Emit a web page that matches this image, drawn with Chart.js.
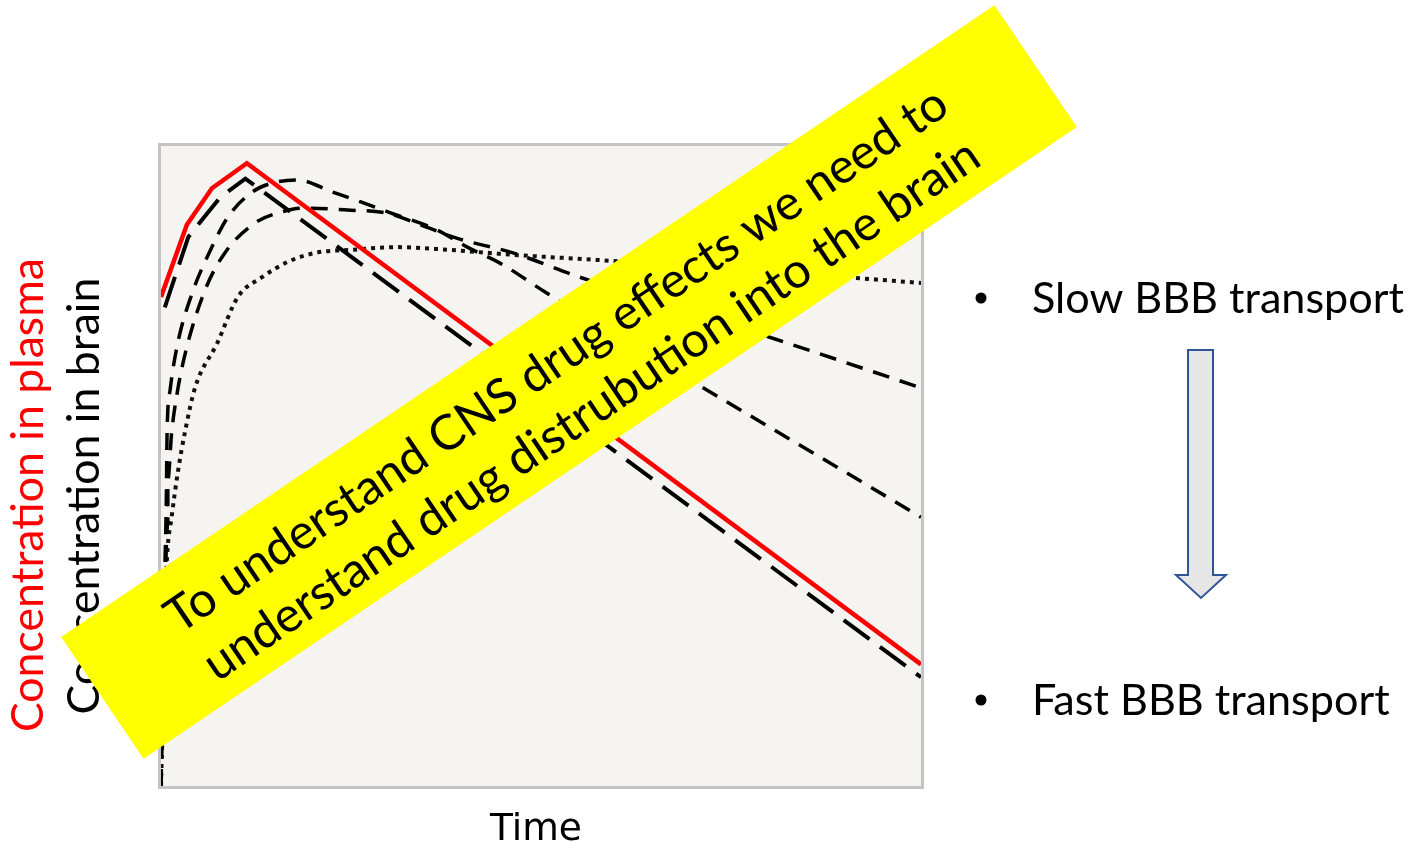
<!DOCTYPE html>
<html>
<head>
<meta charset="utf-8">
<title>CNS drug distribution</title>
<script src="https://cdn.jsdelivr.net/npm/chart.js@4.4.1/dist/chart.umd.min.js"></script>
<style>
  html, body { margin: 0; padding: 0; background: #ffffff; }
  #wrap { width: 1414px; height: 848px; }
</style>
</head>
<body>
<div id="wrap"><canvas id="chart" width="1414" height="848"></canvas></div>
<script>
// --- datos (tiempo 0-100, concentración 0-100) ---
const plasmaT = [0, 3.4, 6.7, 11.3, 100];
const plasmaC = [76.4, 87.7, 93.4, 97.3, 19.0];

const fastT = [0.5, 3.6, 7.8, 11.1, 100];
const fastC = [74.8, 85.8, 92.0, 94.9, 17.0];

const midT = [0, 0.4, 0.7, 0.8, 1.2, 2.2, 4.1, 6.7, 8.8, 12.0, 14.6, 17.9, 22.6, 26.2, 30.1, 36.3, 40.3, 44.6, 50.8, 100];
const midC = [0, 29, 44.7, 55.2, 61.9, 69.2, 77.0, 84.2, 88.9, 92.8, 94.2, 94.7, 92.8, 91.3, 89.6, 86.9, 84.2, 81.7, 77.0, 42.0];

const slowT = [0, 0.5, 0.9, 0.9, 1.4, 2.2, 3.4, 5.8, 8.4, 12.4, 15.9, 18.6, 24.5, 29.7, 34.1, 38.9, 46.3, 55.1, 80.9, 100];
const slowC = [0, 29, 41.1, 47.8, 55.2, 61.9, 68.6, 77.5, 83.3, 88.0, 89.7, 90.3, 90.0, 89.5, 87.7, 85.6, 83.3, 79.5, 69.8, 62.2];

const slowestT = [0, 0.3, 0.5, 0.8, 1.4, 2.2, 3.2, 4.5, 7.4, 10.1, 13.3, 16.7, 20.3, 25.3, 31.1, 37.6, 46.3, 57.4, 91.1, 100];
const slowestC = [0, 13.4, 26, 35.8, 42, 48.9, 55.6, 62.3, 69.2, 76.4, 79.5, 81.9, 83.3, 83.8, 84.2, 83.8, 83.0, 82.2, 79.4, 78.6];

const yLabelPlasma = "Concentration in plasma";
const yLabelBrain = "Concentration in brain";
const xLabel = "Time";
const bulletLabels = ["Slow BBB transport", "Fast BBB transport"];
const bannerLines = ["To understand CNS drug effects we need to", "understand drug distrubution into the brain"];

const pts = (t, c) => t.map((x, i) => ({ x, y: c[i] }));

// tamaño de fuente para que el texto ocupe un ancho dado
function fitSize(ctx, text, family, weight, target){
  ctx.font = `${weight} 100px ${family}`;
  return 100 * target / ctx.measureText(text).width;
}

const CAL = "Lato, 'Open Sans', sans-serif";

const decor = {
  id: "decor",
  beforeDatasetsDraw(chart){
    const ctx = chart.ctx;
    const a = chart.chartArea;
    ctx.save();
    ctx.fillStyle = "#f5f4f0";
    ctx.fillRect(a.left, a.top, a.right - a.left, a.bottom - a.top);
    ctx.strokeStyle = "#c4c4c4";
    ctx.lineWidth = 3;
    ctx.strokeRect(a.left - 1.5, a.top - 1.5, a.right - a.left + 3, a.bottom - a.top + 3);
    ctx.restore();
  },
  afterDatasetsDraw(chart){
    const ctx = chart.ctx;
    ctx.save();

    // etiquetas del eje Y (verticales)
    let s = fitSize(ctx, yLabelPlasma, CAL, 400, 474);
    ctx.font = `400 ${s}px ${CAL}`;
    ctx.fillStyle = "#ff0000";
    ctx.textAlign = "center";
    ctx.textBaseline = "alphabetic";
    ctx.save();
    ctx.translate(43, 495);
    ctx.rotate(-Math.PI / 2);
    ctx.fillText(yLabelPlasma, 0, 0);
    ctx.restore();

    ctx.fillStyle = "#000000";
    ctx.save();
    ctx.translate(99, 496);
    ctx.rotate(-Math.PI / 2);
    ctx.fillText(yLabelBrain, 0, 0);
    ctx.restore();

    // eje X
    s = fitSize(ctx, xLabel, "'DejaVu Sans'", 400, 92);
    ctx.font = `400 ${s}px 'DejaVu Sans'`;
    ctx.fillStyle = "#000000";
    ctx.fillText(xLabel, 536, 840);

    // viñetas a la derecha
    s = fitSize(ctx, bulletLabels[0], CAL, 400, 372);
    ctx.font = `400 ${s}px ${CAL}`;
    ctx.textAlign = "left";
    ctx.fillText(bulletLabels[0], 1032, 313);
    ctx.fillText(bulletLabels[1], 1032, 715);
    ctx.beginPath();
    ctx.arc(981, 298, 5.5, 0, Math.PI * 2);
    ctx.arc(981, 700, 5.5, 0, Math.PI * 2);
    ctx.fill();

    // flecha de bloque
    ctx.beginPath();
    ctx.moveTo(1188, 350);
    ctx.lineTo(1213, 350);
    ctx.lineTo(1213, 575);
    ctx.lineTo(1226, 575);
    ctx.lineTo(1201, 598);
    ctx.lineTo(1176, 575);
    ctx.lineTo(1188, 575);
    ctx.closePath();
    ctx.fillStyle = "#e6e6e6";
    ctx.fill();
    ctx.strokeStyle = "#2f5597";
    ctx.lineWidth = 2;
    ctx.stroke();

    // banda amarilla girada
    const ang = -34.1 * Math.PI / 180;
    ctx.translate(569, 382);
    ctx.rotate(ang);
    ctx.fillStyle = "#ffff00";
    ctx.fillRect(-563.5, -73.5, 1127, 147);
    s = fitSize(ctx, bannerLines[0], CAL, 400, 933);
    ctx.font = `400 ${s}px ${CAL}`;
    ctx.fillStyle = "#000000";
    ctx.textAlign = "center";
    ctx.textBaseline = "middle";
    ctx.fillText(bannerLines[0], 2, -25);
    ctx.fillText(bannerLines[1], 3, 36);
    ctx.restore();
  }
};

const ctx = document.getElementById("chart").getContext("2d");
new Chart(ctx, {
  type: "line",
  data: {
    datasets: [
      { label: "plasma", data: pts(plasmaT, plasmaC), borderColor: "#ff0000", borderWidth: 4.5, tension: 0 },
      { label: "fast", data: pts(fastT, fastC), borderColor: "#000000", borderWidth: 4, borderDash: [32, 13], tension: 0 },
      { label: "mid", data: pts(midT, midC), borderColor: "#000000", borderWidth: 3.5, borderDash: [17, 11], cubicInterpolationMode: "monotone" },
      { label: "slow", data: pts(slowT, slowC), borderColor: "#000000", borderWidth: 3.5, borderDash: [17, 11], cubicInterpolationMode: "monotone" },
      { label: "slowest", data: pts(slowestT, slowestC), borderColor: "#111111", borderWidth: 4, borderDash: [4, 5], cubicInterpolationMode: "monotone" }
    ]
  },
  options: {
    responsive: false,
    animation: false,
    devicePixelRatio: 1,
    layout: { padding: { left: 161, top: 146, right: 493, bottom: 62 } },
    elements: { point: { radius: 0 } },
    plugins: { legend: { display: false }, tooltip: { enabled: false } },
    scales: {
      x: { type: "linear", min: 0, max: 100, display: false },
      y: { type: "linear", min: 0, max: 100, display: false }
    }
  },
  plugins: [decor]
});
</script>
</body>
</html>
